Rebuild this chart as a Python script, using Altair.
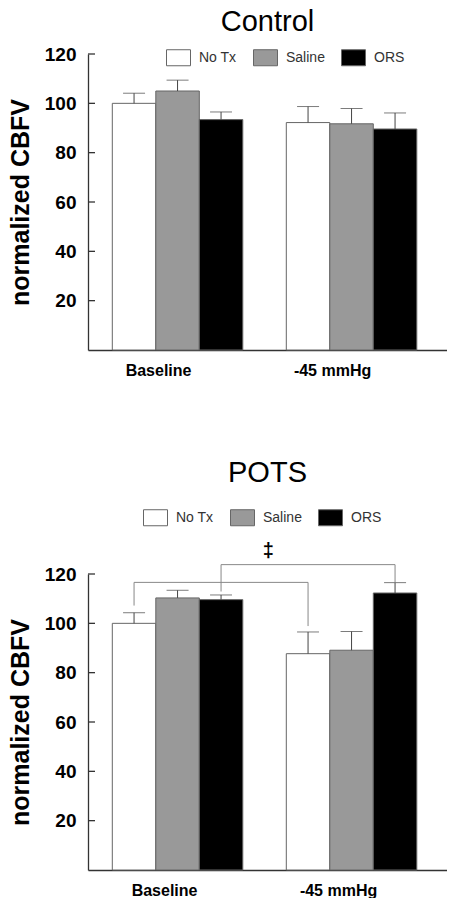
import altair as alt
import pandas as pd

conditions = ["Baseline", "-45 mmHg"]
treatments = ["No Tx", "Saline", "ORS"]
fills = ["#ffffff", "#999999", "#000000"]

# order: Baseline (No Tx, Saline, ORS), -45 mmHg (No Tx, Saline, ORS)
control_mean = [100.0, 105.0, 93.4, 92.2, 91.7, 89.6]
control_err = [104.1, 109.4, 96.5, 98.7, 97.9, 96.1]
pots_mean = [100.0, 110.3, 109.6, 87.7, 89.1, 112.3]
pots_err = [104.3, 113.4, 111.5, 96.5, 96.7, 116.5]

y_ticks = [20, 40, 60, 80, 100, 120]

# significance brackets (POTS panel)
bracket_id = ["a", "a", "a", "a", "b", "b", "b", "b"]
bracket_seq = [0, 1, 2, 3, 0, 1, 2, 3]
bracket_cond = ["Baseline", "Baseline", "-45 mmHg", "-45 mmHg",
                "Baseline", "Baseline", "-45 mmHg", "-45 mmHg"]
bracket_trt = ["No Tx", "No Tx", "No Tx", "No Tx", "ORS", "ORS", "ORS", "ORS"]
bracket_y = [107.2, 116.6, 116.6, 98.9, 112.9, 123.8, 123.8, 116.6]
dagger_cond = ["-45 mmHg"]
dagger_y = [129.4]
dagger_text = ["‡"]

FONT = "Liberation Sans"


def frame(means, errs):
    rows = []
    i = 0
    for c in conditions:
        for t in treatments:
            rows.append({"cond": c, "trt": t, "mean": means[i], "err": errs[i]})
            i += 1
    return pd.DataFrame(rows)


def panel(title, means, errs, legend_x, legend_y, title_offset, label_offset, extra=None):
    df = frame(means, errs)
    xenc = alt.X(
        "cond:N", sort=conditions,
        scale=alt.Scale(paddingInner=0.25, paddingOuter=0.1566, align=0.446),
        axis=alt.Axis(title=None, labelAngle=0, ticks=False, labelFontSize=16,
                      labelFontWeight="bold", labelPadding=12, labelOffset=label_offset,
                      labelColor="#000", domainColor="#333", domainWidth=1.3, grid=False),
    )
    xoff = alt.XOffset("trt:N", sort=treatments)
    yscale = alt.Scale(domain=[0, 120], nice=False)
    bars = alt.Chart(df).mark_bar(stroke="#666", strokeWidth=1).encode(
        x=xenc,
        xOffset=xoff,
        y=alt.Y("mean:Q", scale=yscale,
                axis=alt.Axis(title="normalized CBFV", values=y_ticks, ticks=False,
                              labelFontSize=19, labelFontWeight="bold", labelPadding=12,
                              labelColor="#000", titleFontSize=25, titleFontWeight="bold",
                              titlePadding=10.5, titleColor="#000", domainColor="#333",
                              domainWidth=1.3, grid=False)),
        color=alt.Color("trt:N", sort=treatments,
                        scale=alt.Scale(domain=treatments, range=fills),
                        legend=alt.Legend(
                            title=None, orient="none", direction="horizontal",
                            legendX=legend_x, legendY=legend_y, padding=0,
                            symbolType="M-1,-0.667L1,-0.667L1,0.667L-1,0.667Z",
                            symbolSize=576, symbolStrokeColor="#666", symbolStrokeWidth=1,
                            labelFontSize=14, labelColor="#333", labelFont=FONT,
                            labelOffset=8, columnPadding=14)),
    )
    stems = alt.Chart(df).mark_rule(color="#444", strokeWidth=1).encode(
        x=alt.X("cond:N", sort=conditions), xOffset=xoff,
        y=alt.Y("mean:Q"), y2="err:Q")
    caps = alt.Chart(df).mark_tick(color="#444", thickness=1, size=22).encode(
        x=alt.X("cond:N", sort=conditions), xOffset=xoff, y=alt.Y("err:Q"))
    ticks = alt.Chart(pd.DataFrame({"v": y_ticks})).mark_rule(
        color="#333", strokeWidth=1.3).encode(
        y=alt.Y("v:Q"), x=alt.value(0), x2=alt.value(7))
    layers = [bars, stems, caps, ticks]
    if extra:
        layers += extra
    return alt.layer(*layers).properties(
        width=359, height=296,
        title=alt.TitleParams(title, fontSize=29, font=FONT, fontWeight="normal",
                              anchor="middle", frame="group", baseline="alphabetic",
                              offset=title_offset, color="#000"),
    )


bdf = pd.DataFrame({"id": bracket_id, "seq": bracket_seq, "cond": bracket_cond,
                    "trt": bracket_trt, "y": bracket_y})
brackets = alt.Chart(bdf).mark_line(color="#888", strokeWidth=1).encode(
    x=alt.X("cond:N", sort=conditions),
    xOffset=alt.XOffset("trt:N", sort=treatments),
    y=alt.Y("y:Q"), detail="id:N", order="seq:Q")
ddf = pd.DataFrame({"cond": dagger_cond, "y": dagger_y, "s": dagger_text})
dagger = alt.Chart(ddf).mark_text(fontSize=20, fontWeight="bold", dx=-18,
                                  baseline="middle", color="#000").encode(
    x=alt.X("cond:N", sort=conditions, bandPosition=0), y=alt.Y("y:Q"), text="s:N")

top = panel("Control", control_mean, control_err, 78, -9, -15, -19)
bottom = panel("POTS", pots_mean, pots_err, 55, -69, -6, -13, [brackets, dagger])

chart = alt.vconcat(top, bottom, spacing=81).resolve_scale(
    color="independent"
).properties(padding=0).configure(font=FONT).configure_view(stroke=None)

chart.save("out.html", embed_options={"renderer": "svg", "actions": False})
